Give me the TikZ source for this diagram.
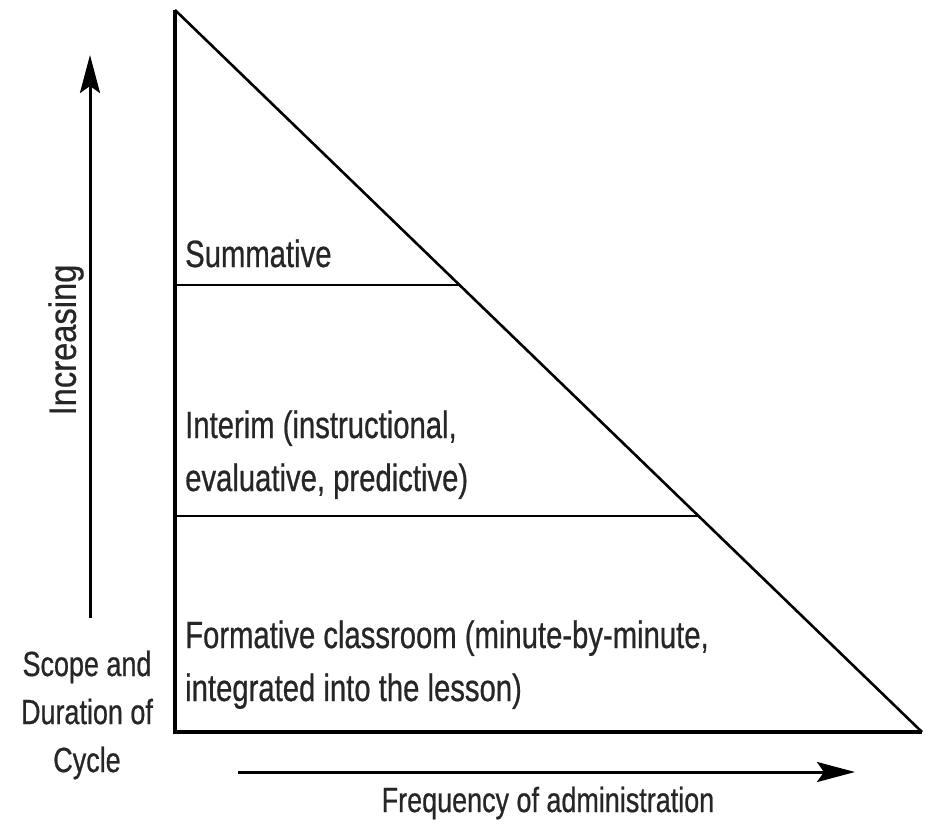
\documentclass[tikz,border=0pt]{standalone}
\usepackage{fontspec}
\setmainfont[FakeStretch=0.77,FakeBold=0.6]{Liberation Sans}
\newfontfamily\rotfont[FakeStretch=0.86,FakeBold=0.6]{Liberation Sans}
\usetikzlibrary{arrows.meta}
\begin{document}
\begin{tikzpicture}[x=1pt,y=-1pt,
  lbl/.style={anchor=base west,inner sep=0pt,font=\fontsize{38}{53}\selectfont,text=black!85},
  sidelbl/.style={align=center,inner sep=0pt,font=\fontsize{35}{48}\selectfont,text=black!85},
  arr/.style={line width=3pt,-{Stealth[length=38pt,width=20pt,inset=7pt]}}]
\useasboundingbox (0,0) rectangle (931,823);
% triangle
\coordinate (T) at (175,10);
\coordinate (BL) at (175,732);
\coordinate (BR) at (922,732);
\draw[line width=4pt,line join=miter] (T) -- (BL) -- (BR);
\draw[line width=2.6pt] (T) -- (BR);
\coordinate (a1) at (175,285);
\coordinate (a2) at (459.5,285);
\coordinate (b1) at (175,516);
\coordinate (b2) at (698.5,516);
\draw[line width=2pt] (a1) -- (a2);
\draw[line width=2pt] (b1) -- (b2);
% labels
\node[lbl] (sum) at (185,267) {Summative};
\node[lbl] (int1) at (185,438) {Interim (instructional,};
\node[lbl] (int2) at (185,491) {evaluative, predictive)};
\node[lbl] (for1) at (185,648) {Formative classroom (minute-by-minute,};
\node[lbl] (for2) at (185,701) {integrated into the lesson)};
% arrows
\coordinate (v0) at (90,618);
\coordinate (v1) at (90,55);
\draw[arr] (v0) -- (v1);
\coordinate (h0) at (238,772);
\coordinate (h1) at (855,772);
\draw[arr] (h0) -- (h1);
\node[lbl,rotate=90,anchor=center,font=\rotfont\fontsize{38}{53}\selectfont] (inc) at (66,340) {Increasing};
\node[sidelbl] (scope) at (87,715) {Scope and\\Duration of\\Cycle};
\node[sidelbl,anchor=center] (freq) at (548,803) {Frequency of administration};
\end{tikzpicture}
\end{document}
